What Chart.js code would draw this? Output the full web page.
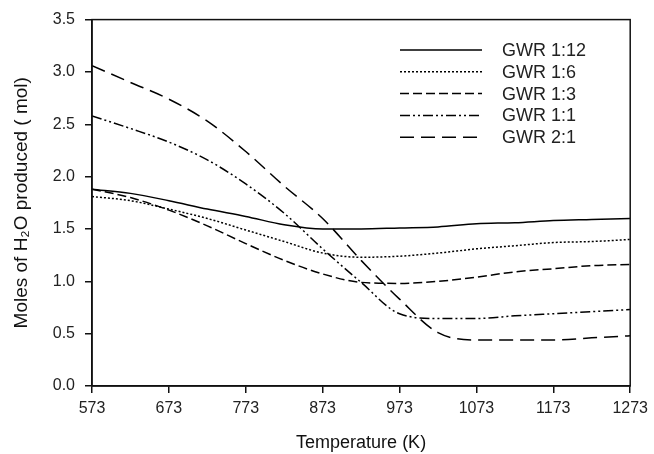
<!DOCTYPE html>
<html>
<head>
<meta charset="utf-8">
<script src="https://cdn.jsdelivr.net/npm/chart.js@4.4.0/dist/chart.umd.min.js"></script>
<style>
  html, body { margin: 0; padding: 0; background: #fff; }
  canvas { display: block; }
</style>
</head>
<body>
<canvas id="chart" width="654" height="454"></canvas>
<script>
// temperatures (K) and moles of H2O for each gas/water ratio
const temps = [573, 623, 673, 723, 773, 823, 873, 923, 973, 1023, 1073, 1123, 1173, 1223, 1273];
const gwr1_12 = [1.88, 1.84, 1.77, 1.69, 1.62, 1.54, 1.50, 1.50, 1.51, 1.52, 1.55, 1.56, 1.58, 1.59, 1.60];
const gwr1_6 = [1.81, 1.77, 1.69, 1.60, 1.49, 1.38, 1.27, 1.23, 1.24, 1.27, 1.31, 1.34, 1.37, 1.38, 1.40];
const gwr1_3 = [1.88, 1.80, 1.68, 1.53, 1.36, 1.20, 1.07, 0.99, 0.98, 1.00, 1.04, 1.09, 1.12, 1.15, 1.16];
const gwr1_1 = [2.58, 2.46, 2.33, 2.16, 1.93, 1.65, 1.31, 0.99, 0.69, 0.645, 0.645, 0.67, 0.69, 0.71, 0.73];
const gwr2_1 = [3.06, 2.90, 2.74, 2.53, 2.24, 1.91, 1.60, 1.20, 0.83, 0.51, 0.44, 0.44, 0.44, 0.46, 0.48];

const seriesNames = ["GWR 1:12", "GWR 1:6", "GWR 1:3", "GWR 1:1", "GWR 2:1"];
const xTicks = [573, 673, 773, 873, 973, 1073, 1173, 1273];
const yTicks = [0, 0.5, 1.0, 1.5, 2.0, 2.5, 3.0, 3.5];

const dashes = [[], [2, 2], [9, 4], [10, 3, 2, 3, 2, 3], [14, 7]];
const allSeries = [gwr1_12, gwr1_6, gwr1_3, gwr1_1, gwr2_1];

const FONT = "'Liberation Sans', Arial, sans-serif";

const datasets = allSeries.map((vals, i) => ({
  label: seriesNames[i],
  data: vals.map((v, j) => ({ x: temps[j], y: v })),
  borderColor: "#000",
  borderWidth: 1.5,
  borderDash: dashes[i],
  pointRadius: 0,
  fill: false,
  cubicInterpolationMode: "monotone"
}));

// box around plot + legend inside the plot
const framePlugin = {
  id: "frame",
  afterDatasetsDraw(chart) {
    const ctx = chart.ctx;
    const a = chart.chartArea;
    ctx.save();
    ctx.strokeStyle = "#111";
    ctx.lineWidth = 1.5;
    ctx.strokeRect(a.left, a.top, a.right - a.left, a.bottom - a.top);

    ctx.font = "18px " + FONT;
    ctx.textBaseline = "middle";
    ctx.fillStyle = "#222";
    chart.data.datasets.forEach((ds, i) => {
      const y = 50 + i * 21.8;
      ctx.beginPath();
      ctx.setLineDash(ds.borderDash);
      ctx.lineWidth = 1.5;
      ctx.strokeStyle = "#000";
      ctx.moveTo(400, y);
      ctx.lineTo(482, y);
      ctx.stroke();
      ctx.setLineDash([]);
      ctx.fillText(ds.label, 502, y + 1);
    });
    ctx.restore();
  }
};

new Chart(document.getElementById("chart"), {
  type: "line",
  data: { datasets: datasets },
  options: {
    responsive: false,
    animation: false,
    devicePixelRatio: 1,
    layout: { padding: { top: 19, right: 20, left: 0, bottom: 0 } },
    plugins: { legend: { display: false }, tooltip: { enabled: false } },
    scales: {
      x: {
        type: "linear",
        min: 573,
        max: 1273,
        afterBuildTicks: s => { s.ticks = xTicks.map(v => ({ value: v })); },
        afterFit: s => { s.height = 68; },
        border: { color: "#111", width: 1.5 },
        grid: { drawOnChartArea: false, drawTicks: true, tickLength: 7, color: "#111", lineWidth: 1.5 },
        ticks: { color: "#222", padding: 6, maxRotation: 0, font: { family: FONT, size: 16 }, callback: v => String(v) },
        title: { display: true, text: "Temperature (K)", color: "#111", padding: { top: 0, bottom: 0 }, font: { family: FONT, size: 18 } }
      },
      y: {
        min: 0,
        max: 3.5,
        afterBuildTicks: s => { s.ticks = yTicks.map(v => ({ value: v })); },
        afterFit: s => { s.width = 92; },
        border: { color: "#111", width: 1.5 },
        grid: { drawOnChartArea: false, drawTicks: true, tickLength: 7, color: "#111", lineWidth: 1.5 },
        ticks: { color: "#222", padding: 10, font: { family: FONT, size: 16 }, callback: v => v.toFixed(1) },
        title: { display: true, text: "Moles of H\u2082O produced ( mol)", color: "#111", padding: { top: 10, bottom: 0 }, font: { family: FONT, size: 19 } }
      }
    }
  },
  plugins: [framePlugin]
});
</script>
</body>
</html>
